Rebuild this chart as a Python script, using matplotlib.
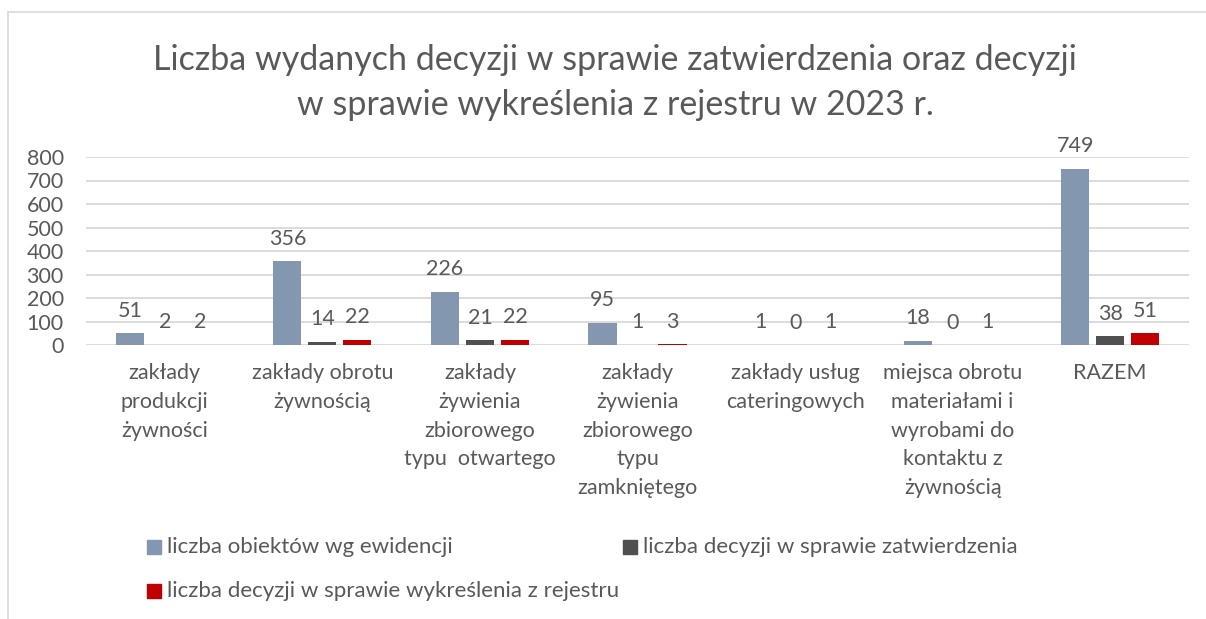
import numpy as np
import matplotlib
matplotlib.use('Agg')
from matplotlib import pyplot as plt
from matplotlib.lines import Line2D
from matplotlib.patches import Rectangle

categories = [
    'zakłady\nprodukcji\nżywności',
    'zakłady obrotu\nżywnością',
    'zakłady\nżywienia\nzbiorowego\ntypu  otwartego',
    'zakłady\nżywienia\nzbiorowego\ntypu\nzamkniętego',
    'zakłady usług\ncateringowych',
    'miejsca obrotu\nmateriałami i\nwyrobami do\nkontaktu z\nżywnością',
    'RAZEM',
]
obiekty = [51, 356, 226, 95, 1, 18, 749]
zatwierdzenia = [2, 14, 21, 1, 0, 0, 38]
wykreslenia = [2, 22, 22, 3, 1, 1, 51]
series_names = [
    'liczba obiektów wg ewidencji',
    'liczba decyzji w sprawie zatwierdzenia',
    'liczba decyzji w sprawie wykreślenia z rejestru',
]
colors = ['#8497B0', '#505050', '#C00000']
yticks = [0, 100, 200, 300, 400, 500, 600, 700, 800]

plt.rcParams['font.family'] = ['Lato', 'DejaVu Sans']
txt = '#595959'

fig = plt.figure(figsize=[12.06, 6.19], dpi=100)
ax = fig.add_axes([86/1206, 1 - 345/619, (1189-86)/1206, (345-157)/619])

x = np.arange(len(categories))
w = 0.178
step = 35/157.6
for i, (vals, c) in enumerate(zip([obiekty, zatwierdzenia, wykreslenia], colors)):
    bars = ax.bar(x + (i - 1) * step, vals, w, color=c, zorder=3)
    for b, v in zip(bars, vals):
        ax.annotate(str(v), (b.get_x() + b.get_width() / 2, v),
                    textcoords='offset points', xytext=(0, 9),
                    ha='center', va='bottom', fontsize=15.5, color=txt)

ax.set_xlim(-0.5, len(categories) - 0.5)
ax.set_ylim(0, 800)
ax.set_yticks(yticks)
ax.grid(axis='y', color='#D9D9D9', linewidth=1.3, zorder=0)
for s in ax.spines.values():
    s.set_visible(False)
ax.tick_params(axis='both', length=0, labelcolor=txt)
ax.tick_params(axis='y', pad=16, labelsize=15.5)
ax.set_xticks(x)
ax.set_xticklabels(categories, va='top', linespacing=1.55, fontsize=15.5)
ax.tick_params(axis='x', pad=13)

fig.text(615/1206, 1 - 60/619, 'Liczba wydanych decyzji w sprawie zatwierdzenia oraz decyzji',
         ha='center', va='center', fontsize=24.5, color=txt)
fig.text(615/1206, 1 - 105/619, 'w sprawie wykreślenia z rejestru w 2023 r.',
         ha='center', va='center', fontsize=24.5, color=txt)

# legend
for (lx, ly), c, name in zip([(147, 547), (623, 547), (147, 591)], colors, series_names):
    fig.patches.append(Rectangle((lx/1206, 1 - (ly+7)/619), 14/1206, 14/619,
                                 transform=fig.transFigure, color=c))
    fig.text((lx + 20)/1206, 1 - ly/619, name, ha='left', va='center',
             fontsize=16, color=txt)

# chart frame
fig.add_artist(Line2D([8/1206, 1], [1 - 12/619] * 2, color='#D9D9D9', linewidth=1.2))
fig.add_artist(Line2D([8/1206] * 2, [0, 1 - 12/619], color='#D9D9D9', linewidth=1.2))

fig.savefig('out.png', dpi=100)
